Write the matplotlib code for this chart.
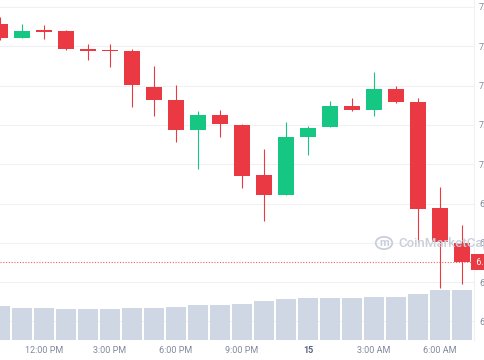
import matplotlib.pyplot as plt
import numpy as np
from matplotlib.patches import Circle

plt.rcParams['font.family'] = ['Roboto', 'DejaVu Sans']

# ================================ data (hourly candles, first = 10:00 AM) ================
hours = np.arange(22)
opens = [7.3567, 7.3219, 7.3397, 7.3389, 7.2919, 7.2893, 7.2880, 7.1964, 7.1646, 7.0870, 7.1252,
         7.1010, 6.9725, 6.9209, 7.0685, 7.0947, 7.1473, 7.1379, 7.1913, 7.1590, 6.8878, 6.7987]
highs = [7.3746, 7.3567, 7.3542, 7.3415, 7.3059, 7.3059, 7.2931, 7.2499, 7.2015, 7.1354, 7.1379,
         7.1023, 7.0387, 7.1074, 7.0972, 7.1608, 7.1684, 7.2354, 7.1990, 7.1677, 6.9427, 6.8453]
lows = [7.3160, 7.3211, 7.3186, 7.2906, 7.2651, 7.2473, 7.1455, 7.1226, 7.0565, 6.9878, 7.0692,
        6.9394, 6.8555, 6.9209, 7.0242, 7.0947, 7.1354, 7.1234, 7.1545, 6.8028, 6.6842, 6.6944]
closes = [7.3211, 7.3397, 7.3372, 7.2931, 7.2880, 7.2868, 7.2015, 7.1634, 7.0870, 7.1252, 7.1023,
          6.9712, 6.9224, 7.0692, 7.0921, 7.1481, 7.1387, 7.1913, 7.1583, 6.8868, 6.8013, 6.7511]
volumes = [343, 330, 323, 320, 320, 320, 326, 326, 336, 353, 356,
           366, 400, 416, 423, 430, 430, 436, 436, 463, 510, 510]
last_price = 6.7511

x_tick_pos = [2, 5, 8, 11, 14, 17, 20]
x_tick_labels = ['12:00 PM', '3:00 PM', '6:00 PM', '9:00 PM', '15', '3:00 AM', '6:00 AM']
y_ticks = [6.6, 6.7, 6.8, 6.9, 7.0, 7.1, 7.2, 7.3, 7.4]

RED = '#ea3943'
GREEN = '#16c784'
GRID = '#eff1f4'
TEXT = '#808a9d'
MARK = '#c9ceda'

# ================================ figure ==================================================
fig = plt.figure(figsize=(4.85, 3.6), dpi=100)
rect = [0, 20 / 360, 474 / 485, 340 / 360]

ax_grid = fig.add_axes(rect)
ax_vol = fig.add_axes(rect, facecolor='none')
ax = fig.add_axes(rect, facecolor='none', sharex=ax_grid, sharey=ax_grid)

# grid / ticks layer
ax_grid.set_xlim(0, 474 / 22)
ax_grid.set_ylim(6.5527, 7.4178)
ax_grid.set_yticks(y_ticks)
ax_grid.set_yticklabels([f'{v:.2f}' for v in y_ticks])
ax_grid.yaxis.tick_right()
ax_grid.set_xticks(x_tick_pos)
ax_grid.set_xticklabels(x_tick_labels)
ax_grid.tick_params(axis='both', length=0, labelsize=6.5, colors=TEXT)
ax_grid.tick_params(axis='y', pad=3.6)
ax_grid.tick_params(axis='x', pad=4.5)
for lbl in ax_grid.get_xticklabels():
    if lbl.get_text() == '15':
        lbl.set_fontweight('bold')
        lbl.set_color('#58667e')
ax_grid.grid(axis='y', color=GRID, lw=0.8)
for s in ['top', 'left', 'bottom']:
    ax_grid.spines[s].set_visible(False)
ax_grid.spines['right'].set_color(GRID)

# volume layer
ax_vol.bar(hours, volumes, width=0.95, color='#cfd6e4')
ax_vol.set_xlim(0, 474 / 22)
ax_vol.set_ylim(7, 3400)
ax_vol.axis('off')

# candle layer
colors = [GREEN if c >= o else RED for o, c in zip(opens, closes)]
ax.vlines(hours, lows, highs, colors=colors, lw=0.8)
bottoms = [min(o, c) for o, c in zip(opens, closes)]
heights = [max(abs(c - o), 0.004) for o, c in zip(opens, closes)]
ax.bar(hours, heights, bottom=bottoms, width=0.77, color=colors)
ax.axhline(last_price, color=RED, lw=0.8, ls=(0, (1, 1.5)), alpha=0.8)
ax.axis('off')

# current price tag
ax.text(1.0, last_price, f' {last_price:.4f}', transform=ax.get_yaxis_transform(),
        ha='left', va='center', fontsize=6.5, color='white', clip_on=False,
        bbox=dict(boxstyle='square,pad=0.35', fc=RED, ec='none'))

# watermark
fig.text(398 / 485, 1 - 243 / 360, 'CoinMarketCap', fontsize=9.5, color=MARK,
         ha='left', va='center', fontweight='medium')
fig.patches.append(Circle((384 / 485, 1 - 243 / 360), 0.017, transform=fig.transFigure,
                          fill=False, ec=MARK, lw=1.3))
fig.text(384 / 485, 1 - 243 / 360, 'm', fontsize=8, color=MARK, ha='center', va='center',
         fontweight='bold')

fig.savefig('out.png', dpi=100)
